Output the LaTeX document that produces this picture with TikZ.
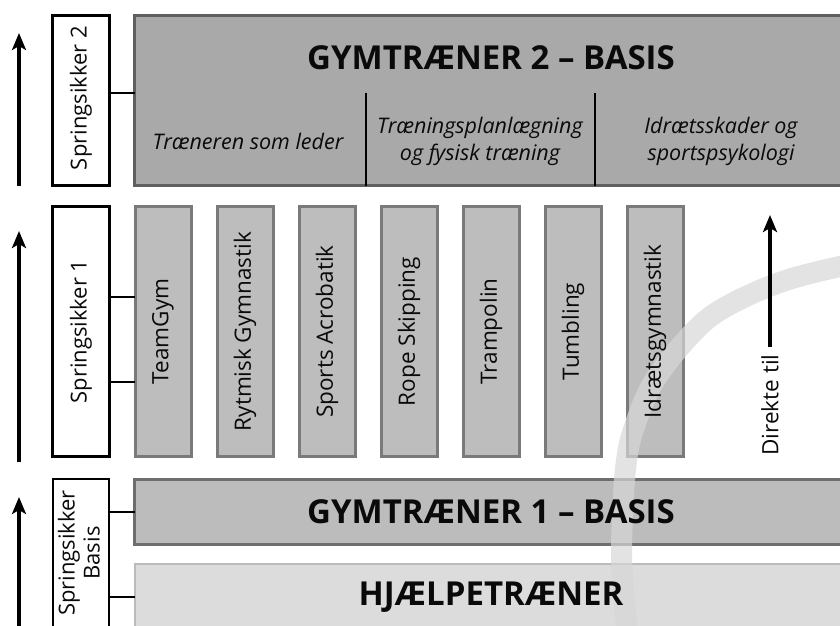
\documentclass[tikz,border=0pt]{standalone}
\usepackage{fontspec}
\setmainfont{Open Sans}
\usetikzlibrary{arrows.meta,calc}
\definecolor{gtwofill}{HTML}{A9A9A9}
\definecolor{gtwodraw}{HTML}{5F5F5F}
\definecolor{colfill}{HTML}{BDBDBD}
\definecolor{coldraw}{HTML}{7A7A7A}
\definecolor{gonefill}{HTML}{BCBCBC}
\definecolor{gonedraw}{HTML}{6E6E6E}
\definecolor{hjfill}{HTML}{DCDCDC}
\definecolor{hjdraw}{HTML}{BBBBBB}
\definecolor{arcgray}{HTML}{D7D7D7}
\definecolor{txt}{HTML}{0A0A0A}
\begin{document}
\begin{tikzpicture}[x=1pt,y=-1pt,
  every node/.style={inner sep=0pt,outer sep=0pt,text=txt},
  lvlbox/.style={draw=black,line width=3pt,fill=white},
  gtwobox/.style={draw=gtwodraw,line width=2.6pt,fill=gtwofill},
  colbox/.style={draw=coldraw,line width=3pt,fill=colfill,minimum width=56pt,minimum height=250pt},
  gonebox/.style={draw=gonedraw,line width=2.8pt,fill=gonefill},
  hjbox/.style={draw=hjdraw,line width=2pt,fill=hjfill},
  titletext/.style={font=\fontsize{33}{38}\selectfont\bfseries},
  subtext/.style={font=\fontsize{21.5}{27}\selectfont\itshape,align=center},
  vtext/.style={font=\fontsize{22.5}{26}\selectfont},
  lvltext/.style={font=\fontsize{22}{25}\selectfont,align=center},
  link/.style={draw=black,line width=2.8pt},
  divider/.style={draw=black,line width=1.4pt},
  uparrow/.style={draw=black,line width=4.5pt,-{Stealth[length=17pt,width=14pt,inset=4pt]}},
  arcband/.style={draw=arcgray,line width=21pt,opacity=0.7}
]
\useasboundingbox (0,0) rectangle (840,625);
\clip (0,0) rectangle (840,625);

% ---------- boxes ----------
\node[lvlbox,minimum width=57pt,minimum height=170pt] (s2) at (81,100.5) {};
\node[gtwobox,minimum width=736pt,minimum height=170pt] (g2) at (502.5,100.5) {};

\node[lvlbox,minimum width=57pt,minimum height=250pt] (s1) at (81,331.5) {};
\foreach \i/\nm in {0/b1,1/b2,2/b3,3/b4,4/b5,5/b6,6/b7}{
  \node[colbox] (\nm) at ({163+82*\i},331.5) {};
}

\node[lvlbox,line width=2.6pt,minimum width=56pt,minimum height=170pt] (sb) at (81,564) {};
\node[gonebox,minimum width=736pt,minimum height=65pt] (g1) at (502.5,512) {};
\node[hjbox,minimum width=736pt,minimum height=66pt] (hj) at (502.5,597) {};

% ---------- dividers in top box ----------
\coordinate (d1t) at (366,93);
\coordinate (d2t) at (595,93);
\draw[divider] (d1t) -- (d1t |- g2.south);
\draw[divider] (d2t) -- (d2t |- g2.south);

% ---------- connectors ----------
\coordinate (c2) at (0,93);
\coordinate (c1a) at (0,297);
\coordinate (c1b) at (0,382);
\draw[link] (s2.east |- c2) -- (g2.west |- c2);
\draw[link] (s1.east |- c1a) -- (b1.west |- c1a);
\draw[link] (s1.east |- c1b) -- (b1.west |- c1b);
\draw[link] (sb.east |- g1.west) -- (g1.west);
\draw[link] (sb.east |- hj.west) -- (hj.west);

% ---------- watermark arc ----------
\draw[arcband] plot[smooth,tension=0.6] coordinates
  {(630,660) (622,570) (623,505) (627,457) (635,425) (653,383) (687,339) (722,309) (787,280) (870,260)};

% ---------- arrows ----------
\coordinate (a2s) at (19,186);
\coordinate (a2e) at (19,33);
\coordinate (a1s) at (19,462);
\coordinate (a1e) at (19,231);
\coordinate (a0s) at (19,640);
\coordinate (a0e) at (19,497);
\coordinate (ads) at (770,347);
\coordinate (ade) at (770,215);
\draw[uparrow] (a2s) -- (a2e);
\draw[uparrow] (a1s) -- (a1e);
\draw[uparrow] (a0s) -- (a0e);
\draw[uparrow] (ads) -- (ade);

% ---------- texts ----------
\node[lvltext] (s2t) at (81,98) {\rotatebox{90}{Springsikker 2}};
\node[lvltext] (s1t) at (s1.center) {\rotatebox{90}{Springsikker 1}};
\node[lvltext] (sbt) at (82,553) {\rotatebox{90}{\begin{tabular}{@{}c@{}}Springsikker\\Basis\end{tabular}}};

\node[titletext] (g2t) at (491,58) {GYMTRÆNER 2 – BASIS};
\node[subtext] (sub1) at (248,141) {Træneren som leder};
\node[subtext] (sub2) at (480,141) {Træningsplanlægning\\og fysisk træning};
\node[subtext] (sub3) at (721,141) {Idrætsskader og\\sportspsykologi};

\node[vtext] (b1t) at (b1.center) {\rotatebox{90}{TeamGym}};
\node[vtext] (b2t) at (b2.center) {\rotatebox{90}{Rytmisk Gymnastik}};
\node[vtext] (b3t) at (b3.center) {\rotatebox{90}{Sports Acrobatik}};
\node[vtext] (b4t) at (b4.center) {\rotatebox{90}{Rope Skipping}};
\node[vtext] (b5t) at (b5.center) {\rotatebox{90}{Trampolin}};
\node[vtext] (b6t) at (b6.center) {\rotatebox{90}{Tumbling}};
\node[vtext] (b7t) at (b7.center) {\rotatebox{90}{Idrætsgymnastik}};

\node[vtext] (dt) at (770,405) {\rotatebox{90}{Direkte til}};

\node[titletext] (g1t) at (491,512) {GYMTRÆNER 1 – BASIS};
\node[titletext] (hjt) at (491,597) {HJÆLPETRÆNER};
\end{tikzpicture}
\end{document}
